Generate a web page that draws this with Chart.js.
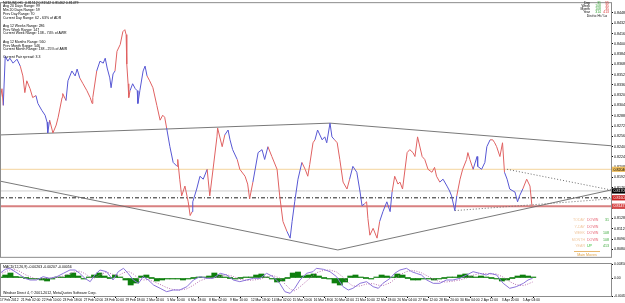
<!DOCTYPE html>
<html><head><meta charset="utf-8">
<script src="https://cdn.jsdelivr.net/npm/chart.js@4.4.1/dist/chart.umd.min.js"></script>
<style>
html,body{margin:0;padding:0;background:#fff;width:625px;height:303px;overflow:hidden;}
#c1{position:absolute;left:0;top:0;}
#c2{position:absolute;left:0;top:260px;}
</style></head><body>
<canvas id="c1" width="625" height="260"></canvas>
<canvas id="c2" width="625" height="43"></canvas>
<script>
// ---------- DATA ----------
const priceBars = [0,3,5,8,12,15,20,26,31,35,38,41,46,50,55,58,64,69,72,73,76,81,86,89,95,96,101,104,110,115,118,122,127,133,138,141,142,148,153,158,161,164,168,170,173,176,179,184,188,191,193,194,196,197,199,203,207,210,211,214,219,222,225,229,234,240,245,249,252,255,260,265,271,272,275,278,283,288,291,294,295,301,306,311,317,321,326,332,333,340,344,349,352,356,363,367,375,379,382,387,395,401,405,410,416,424,428,433,439,444,447,451,456,462,467,471,474,479,482,486,493,497,500,505,508,512,516,520,525,531,535,540,546,551,554,558,561,563,566,571,577,581,586,592,597,600,604,609,612,616,623,627,632,635,639,646,650,655,661,665,668,673,678,684,688,691,696,699,704,708,714,716,719,724,730,731,737,742,745,750,754,757,760,765,769,772,776,780,785,788,792,795,800,806,811,814];
const priceValues = [0.83117,0.83301,0.83041,0.83806,0.83730,0.83776,0.83699,0.83760,0.83653,0.83500,
0.83240,0.83424,0.83301,0.83163,0.83194,0.83071,0.82964,0.82888,0.82781,0.82612,
0.82811,0.82612,0.82735,0.82857,0.83163,0.83225,0.83117,0.83424,0.83577,0.83500,
0.83607,0.83469,0.83378,0.83270,0.83163,0.83071,0.83163,0.83577,0.83730,0.83699,
0.83776,0.83623,0.83469,0.83316,0.83531,0.83577,0.83883,0.83990,0.84189,0.84220,
0.84143,0.83684,0.83378,0.83163,0.83270,0.83378,0.83301,0.83270,0.83071,0.83270,
0.83577,0.83653,0.83500,0.83424,0.83316,0.83041,0.82811,0.82888,0.82857,0.82689,
0.82398,0.82153,0.82092,0.82199,0.81892,0.81632,0.81785,0.81540,0.81326,0.81387,
0.81540,0.81739,0.81938,0.81892,0.82046,0.81632,0.82046,0.82551,0.82689,0.82398,
0.82581,0.82658,0.82505,0.82352,0.82199,0.82046,0.81938,0.81816,0.81586,0.81847,
0.82306,0.82352,0.82199,0.82398,0.82245,0.82046,0.81632,0.81234,0.81081,0.80974,
0.81234,0.81540,0.81892,0.82153,0.82046,0.81938,0.82122,0.82459,0.82505,0.82658,
0.82505,0.82551,0.82459,0.82765,0.82551,0.82505,0.82459,0.82199,0.81847,0.81739,
0.81892,0.82092,0.82000,0.81693,0.81479,0.81510,0.81540,0.81280,0.81020,0.81127,
0.80974,0.81234,0.81387,0.81540,0.81387,0.81693,0.81938,0.81816,0.81847,0.81739,
0.82306,0.82352,0.82306,0.82245,0.82551,0.82245,0.82199,0.82046,0.82000,0.82076,
0.81938,0.81847,0.81892,0.81785,0.81709,0.81632,0.81403,0.81632,0.81892,0.82046,
0.82199,0.82306,0.82199,0.82046,0.82245,0.82092,0.82046,0.82153,0.82398,0.82505,
0.82505,0.82459,0.82398,0.82245,0.82459,0.82000,0.81892,0.81739,0.81709,0.81693,
0.81540,0.81632,0.81739,0.81892,0.81785,0.81479];
// trend state of the coloured price line: 1 = up (blue), -1 = down (red)
const trendState = [-1,-1,-1, 1,1,1,1,1,1, -1,-1,-1,-1,-1,-1, 1,1,1,1,1,1, -1,-1,-1,-1,-1,-1, 1,1,1,1,1,
-1,-1,-1,-1,-1,-1, 1,1,1,1,1,1,1,1, -1,-1,-1,-1,-1,-1,-1,-1,-1, 1,1,1,1,1,1,1,1, -1,-1,-1,-1,-1,-1,-1,
1,1,1, -1,-1,-1,-1,-1,-1,-1, 1,1,1,1,1, -1,-1,-1,-1,-1,-1, 1,1,1,1, -1,-1,-1,-1,-1, 1,1,1,1,
-1,-1,-1,-1,-1, 1,1,1,1,1, -1,-1,-1,-1,-1, 1,1,1,1,1,1,1, -1,-1,-1,-1,-1, 1,1,1,1,1,
-1,-1,-1,-1,-1,-1, 1,1,1,1, -1,-1,-1,-1,-1,-1,-1,-1,-1,-1,-1,-1,-1,-1,-1,-1, 1,1,1,1,1,1,
-1,-1,-1,-1,-1,-1, 1,1,1,1,1,1, -1,-1,-1,-1,-1,-1, 1,1,1,1,1,1,1, -1,-1,-1];

const priceTicks = [0.84480,0.84320,0.84160,0.84000,0.83840,0.83680,0.83520,0.83360,0.83200,0.83040,0.82880,0.82720,0.82560,0.82400,0.82240,0.82080,0.81920,0.81760,0.81600,0.81440,0.81280,0.81120,0.80960,0.80800];

const dateLabels = ["17 Feb 2012","21 Feb 02:00","22 Feb 10:00","23 Feb 18:00","27 Feb 02:00","28 Feb 10:00","29 Feb 18:00","2 Mar 02:00","5 Mar 10:00","6 Mar 18:00","8 Mar 02:00","9 Mar 10:00","12 Mar 18:00","14 Mar 02:00","15 Mar 10:00","16 Mar 18:00","20 Mar 02:00","21 Mar 10:00","22 Mar 18:00","26 Mar 04:00","27 Mar 12:00","28 Mar 20:00","30 Mar 04:00","2 Apr 12:00","3 Apr 20:00","5 Apr 04:00"];
const BARS_PER_LABEL = 32;

// trend lines (bar index, price)
const upperTrendBars = [0, 505, 935];
const upperTrendPrices = [0.82581, 0.82765, 0.82413];
const lowerTrendBars = [0, 517, 935];
const lowerTrendPrices = [0.81862, 0.80790, 0.81724];
const dotUpperBars = [776, 935];
const dotUpperPrices = [0.82046, 0.81724];
const dotLowerBars = [696, 935];
const dotLowerPrices = [0.81403, 0.81586];
// horizontal levels: orange, grey, dash-dot, red
const levelPrices = [0.82046, 0.81709, 0.81602, 0.81471];

// indicator
const macdBars = [0,8,15,23,31,38,46,56,66,76,87,97,107,115,122,130,138,145,153,163,173,181,189,196,204,212,219,227,235,245,255,265,275,286,296,306,316,326,337,347,357,367,377,388,398,408,418,428,436,444,451,459,469,479,484,495,505,515,525,533,540,551,561,571,579,586,597,604,612,622,630,637,645,653,663,673,683,693,704,714,724,734,744,750,760,770,780,790,801,808,815];
const macdMain = [0.00117,0.00217,0.00242,0.00158,0.00075,-0.00008,-0.00050,-0.00050,0.00033,-0.00008,0.00033,0.00117,0.00200,0.00200,0.00117,-0.00008,-0.00092,0.00075,0.00200,0.00158,-0.00050,0.00158,0.00242,0.00117,-0.00050,-0.00133,0.00033,-0.00050,-0.00175,-0.00258,-0.00342,-0.00300,-0.00300,-0.00217,-0.00050,0.00033,-0.00008,-0.00008,0.00117,0.00075,-0.00050,-0.00092,-0.00050,-0.00008,-0.00008,0.00117,0.00033,-0.00133,-0.00342,-0.00383,-0.00258,-0.00050,0.00117,0.00158,0.00242,0.00217,0.00158,0.00033,-0.00217,-0.00300,-0.00258,-0.00133,-0.00092,-0.00217,-0.00258,-0.00133,-0.00008,0.00117,0.00200,0.00242,0.00158,0.00117,0.00075,-0.00050,-0.00133,-0.00133,-0.00050,-0.00050,-0.00008,0.00075,0.00158,0.00117,0.00075,0.00117,0.00075,-0.00133,-0.00258,-0.00217,-0.00133,-0.00050,-0.00008];
const macdSignal = [0.00100,0.00150,0.00200,0.00210,0.00160,0.00090,0.00030,-0.00030,-0.00020,0.00000,0.00010,0.00050,0.00110,0.00160,0.00170,0.00110,0.00020,0.00000,0.00080,0.00150,0.00090,0.00060,0.00130,0.00170,0.00100,-0.00020,-0.00050,-0.00040,-0.00090,-0.00160,-0.00240,-0.00290,-0.00300,-0.00270,-0.00180,-0.00070,-0.00010,0.00000,0.00040,0.00080,0.00040,-0.00030,-0.00060,-0.00050,-0.00030,0.00030,0.00060,0.00000,-0.00150,-0.00280,-0.00320,-0.00220,-0.00080,0.00060,0.00130,0.00190,0.00200,0.00150,0.00020,-0.00120,-0.00200,-0.00200,-0.00150,-0.00140,-0.00180,-0.00190,-0.00120,-0.00030,0.00080,0.00160,0.00190,0.00170,0.00130,0.00060,-0.00030,-0.00090,-0.00100,-0.00080,-0.00050,0.00000,0.00070,0.00110,0.00110,0.00100,0.00100,0.00020,-0.00090,-0.00170,-0.00190,-0.00150,-0.00100];
const HIST_STEP = 8; // one histogram sample every 8 bars
const histValues = [0.00008,0.00075,0.00125,0.00038,0.00025,0.00000,-0.00013,-0.00025,-0.00050,-0.00075,
-0.00025,0.00003,0.00025,0.00075,0.00125,0.00050,-0.00013,0.00013,0.00075,0.00125,
0.00050,0.00000,0.00075,0.00025,-0.00050,-0.00175,-0.00125,0.00050,0.00075,0.00000,
-0.00075,-0.00050,-0.00025,-0.00013,-0.00025,-0.00050,-0.00025,0.00000,0.00013,0.00013,
0.00050,0.00125,0.00075,0.00013,0.00000,-0.00013,0.00000,0.00013,0.00025,0.00075,
0.00100,0.00025,-0.00025,-0.00100,-0.00075,0.00000,0.00125,0.00150,0.00050,0.00075,
0.00100,0.00050,0.00000,-0.00025,-0.00125,-0.00175,-0.00100,0.00050,0.00075,0.00025,
0.00000,-0.00013,0.00025,0.00075,0.00050,0.00025,0.00100,0.00075,0.00000,-0.00050,
-0.00050,-0.00025,-0.00025,-0.00050,-0.00025,0.00000,0.00013,0.00025,0.00075,0.00100,
0.00050,0.00025,0.00050,0.00013,0.00000,-0.00025,-0.00075,-0.00050,0.00000,0.00050,
0.00075,0.00050,0.00025];
const macdTicks = [0.0035, 0, -0.0045];

const infoLines = ["NZDUSD,H1  0.81512 0.81542 0.81462 0.81479","Avg 20 Days Range: 99","Min 20 Days Range: 59","Prev Day Range: 70","Current Day Range: 62 - 63% of ADR","Avg 12 Weeks Range: 286","Prev Week Range: 147","Current Week Range: 138 - 74% of AWR","Avg 12 Months Range: 560","Prev Month Range: 546","Current Month Range: 138 - 25% of AMR","Current Pair spread: 3.3"];
const statNames = ["Day","Week","Month","Year"];
const statUp = ["31","108","108","314"];
const statDown = ["55","35","35","413"];
const moveNames = ["TODAY","Y-DAY","WEEK","MONTH","YEAR"];
const moveDirs = ["DOWN","DOWN","DOWN","DOWN","UP"];
const moveVals = ["31","","108","108","413"];

// ---------- STYLE / LAYOUT ----------
const X_MAX = 935;
const RED = '#E06262', BLUE = '#5858D4';
const TREND = '#6a6a6a';
const FONT = 'Arial, "Liberation Sans", sans-serif';
const FRAME = '#8c8c8c';
const INFO_Y = [2.8,6.5,10.2,13.9,17.6,26,29.7,33.4,42,45.7,49.4,57.3];
function txt(ctx, s, x, y, color, align, size){
  ctx.font = (size||3.6) + 'px ' + FONT;
  ctx.fillStyle = color; ctx.textAlign = align||'left'; ctx.textBaseline = 'middle';
  ctx.fillText(s, x, y);
}
function pts(xs, ys){ return xs.map((x,i)=>({x:x, y:ys[i]})); }
function hline(v){ return [{x:0,y:v},{x:X_MAX,y:v}]; }

const mainOverlay = {
  id:'mainOverlay',
  afterDraw(chart){
    const ctx = chart.ctx, ca = chart.chartArea, ys = chart.scales.y;
    ctx.save();
    ctx.strokeStyle = FRAME; ctx.lineWidth = 1;
    ctx.strokeRect(ca.left+0.5, ca.top-0.5, ca.right-ca.left, ca.bottom-ca.top+1);
    const tagBg = ['#F0C060','#000000','#C81E1E','#D84848'];
    const tagFg = ['#000','#fff','#fff','#fff'];
    levelPrices.forEach((v,i)=>{
      const y = ys.getPixelForValue(v);
      ctx.fillStyle = tagBg[i];
      ctx.fillRect(ca.right+1, y-2.6, 625-ca.right-1, 5.2);
      txt(ctx, v.toFixed(5), ca.right+2.5, y+0.2, tagFg[i], 'left', 3.6);
    });
    infoLines.forEach((s,i)=> txt(ctx, s, 3, INFO_Y[i], '#000', 'left', 3.5));
    statNames.forEach((s,i)=>{
      const y = 2.6 + i*3.2;
      txt(ctx, s, 590, y, '#000', 'right', 3.4);
      txt(ctx, statUp[i], 601, y, '#2E9E2E', 'right', 3.4);
      txt(ctx, statDown[i], 609, y, '#D83030', 'right', 3.4);
    });
    txt(ctx, 'Dist to Hi / Lo', 597, 16, '#000', 'center', 3.4);
    moveNames.forEach((s,i)=>{
      const y = 220 + i*6.5;
      txt(ctx, s, 585, y, '#F0C8A0', 'right', 3.6);
      txt(ctx, moveDirs[i], 587, y, moveDirs[i]==='UP' ? '#30C030' : '#E86A7A', 'left', 3.6);
      if (moveVals[i]) txt(ctx, moveVals[i], 609, y, '#3AA83A', 'right', 3.6);
    });
    ctx.strokeStyle = '#E8B870'; ctx.beginPath(); ctx.moveTo(574, 251.5); ctx.lineTo(600, 251.5); ctx.stroke();
    txt(ctx, 'Main Moves', 587, 254.8, '#E0A040', 'center', 3.6);
    ctx.restore();
  }
};

const subOverlay = {
  id:'subOverlay',
  afterDraw(chart){
    const ctx = chart.ctx, ca = chart.chartArea;
    ctx.save();
    ctx.strokeStyle = FRAME; ctx.lineWidth = 1;
    ctx.strokeRect(ca.left+0.5, ca.top-0.5, ca.right-ca.left, ca.bottom-ca.top+1);
    txt(ctx, 'MACD(12,26,9) -0.00263 -0.00207 -0.00056', 3, ca.top+3.2, '#000', 'left', 3.5);
    txt(ctx, 'Windsor Direct 4, \u00A9 2001-2012, MetaQuotes Software Corp.', 3, ca.bottom-2.8, '#000', 'left', 3.5);
    ctx.restore();
  }
};

const lineBase = {pointRadius:0, tension:0, borderWidth:1, fill:false};

new Chart(document.getElementById('c1'), {
  type:'line',
  data:{datasets:[
    Object.assign({}, lineBase, {data: pts(priceBars, priceValues), borderColor: RED,
      segment:{borderColor: c => trendState[c.p1DataIndex] > 0 ? BLUE : RED}}),
    Object.assign({}, lineBase, {data: pts(upperTrendBars, upperTrendPrices), borderColor:TREND, borderWidth:0.9}),
    Object.assign({}, lineBase, {data: pts(lowerTrendBars, lowerTrendPrices), borderColor:TREND, borderWidth:0.9}),
    Object.assign({}, lineBase, {data: pts(dotUpperBars, dotUpperPrices), borderColor:TREND, borderDash:[1,2]}),
    Object.assign({}, lineBase, {data: pts(dotLowerBars, dotLowerPrices), borderColor:TREND, borderDash:[1,2]}),
    Object.assign({}, lineBase, {data: hline(levelPrices[0]), borderColor:'#F4D49C'}),
    Object.assign({}, lineBase, {data: hline(levelPrices[1]), borderColor:'#CFCFCF'}),
    Object.assign({}, lineBase, {data: hline(levelPrices[2]), borderColor:'#202020', borderDash:[4,2,1,2]}),
    Object.assign({}, lineBase, {data: hline(levelPrices[3]), borderColor:'#D88080', borderWidth:2})
  ]},
  options:{
    responsive:false, animation:false,
    layout:{padding:{top:1,bottom:1,left:0,right:0}},
    plugins:{legend:{display:false}, tooltip:{enabled:false}, title:{display:false}},
    scales:{
      x:{type:'linear', min:0, max:X_MAX, display:false},
      y:{type:'linear', position:'right', min:0.80683, max:0.84633,
        afterFit(s){ s.width = 14; },
        afterBuildTicks(s){ s.ticks = priceTicks.map(v=>({value:v})); },
        ticks:{autoSkip:false, padding:1, color:'#000', font:{family:FONT, size:3.6}, callback:v=>Number(v).toFixed(5)},
        grid:{drawOnChartArea:false, tickLength:2, color:'#000'},
        border:{display:false}
      }
    }
  },
  plugins:[mainOverlay]
});

new Chart(document.getElementById('c2'), {
  type:'line',
  data:{datasets:[
    Object.assign({}, lineBase, {data: pts(macdBars, macdMain), borderColor:'#8C74DA', order:1}),
    Object.assign({}, lineBase, {data: pts(macdBars, macdSignal), borderColor:'#B86FAE', borderDash:[1,1.5], order:2}),
    {type:'bar', data: histValues.map((v,i)=>({x:i*HIST_STEP, y:v})), backgroundColor:'#0E7F0E',
      barPercentage:1, categoryPercentage:1, minBarLength:1, order:3}
  ]},
  options:{
    responsive:false, animation:false,
    layout:{padding:{top:4,bottom:0,left:0,right:0}},
    plugins:{legend:{display:false}, tooltip:{enabled:false}},
    scales:{
      x:{type:'linear', min:0, max:X_MAX, offset:false, position:'bottom',
        afterFit(s){ s.height = 7; },
        afterBuildTicks(s){ s.ticks = dateLabels.map((_,i)=>({value:i*BARS_PER_LABEL})); },
        ticks:{autoSkip:false, maxRotation:0, minRotation:0, align:'start', padding:0, color:'#000',
          font:{family:FONT, size:3.3}, callback:(v,i)=>dateLabels[i]},
        grid:{drawOnChartArea:false, tickLength:2, color:'#000'},
        border:{display:false}
      },
      y:{type:'linear', position:'right', min:-0.0045, max:0.0035,
        afterFit(s){ s.width = 14; },
        afterBuildTicks(s){ s.ticks = macdTicks.map(v=>({value:v})); },
        ticks:{autoSkip:false, padding:1, color:'#000', font:{family:FONT, size:3.4},
          callback:v=> v===0 ? '0.00' : Number(v).toFixed(5)},
        grid:{drawOnChartArea:false, tickLength:2, color:'#000'},
        border:{display:false}
      }
    }
  },
  plugins:[subOverlay]
});
</script>
</body></html>
